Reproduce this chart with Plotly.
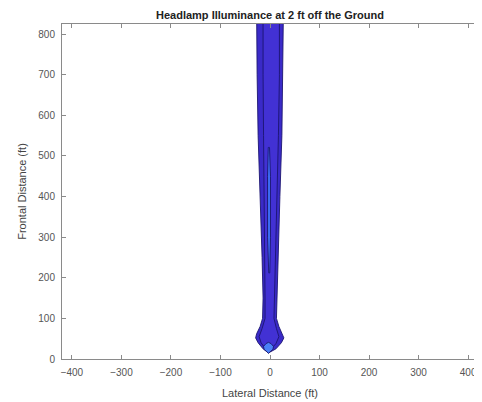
import plotly.graph_objects as go

# Contour level boundaries (lateral ft, frontal ft)
outer_x = [-3, -14, -24, -29, -27, -20, -15, -14, -16, -20, -24, -26, -27,
           27, 26, 24, 20, 16, 14, 13, 18, 25, 28, 23, 12, -3]
outer_y = [15, 25, 40, 52, 62, 80, 100, 150, 250, 400, 550, 700, 850,
           850, 700, 550, 400, 250, 150, 100, 80, 62, 52, 40, 25, 15]

mid_x = [-3, -10, -18, -22, -16, -10, -10, -11, -12, -13, -14, -14,
         19, 19, 17, 14, 10, 8, 8, 13, 18, 12, 4, -3]
mid_y = [22, 27, 40, 55, 75, 100, 150, 250, 400, 550, 700, 850,
         850, 700, 550, 400, 250, 150, 100, 75, 55, 38, 27, 22]

strip_x = [-2.5, -5, -5, -3.5, -1, 1, 1, -0.5, -2.5]
strip_y = [212, 300, 450, 521, 521, 450, 300, 212, 212]

blob_x = [-3, -12, -13, -8, -3, 2, 7, 6, -3]
blob_y = [14, 24, 31, 38, 41, 38, 31, 24, 14]

levels = [
    ("outer", outer_x, outer_y, "#3a2ac8"),
    ("mid", mid_x, mid_y, "#4231d4"),
    ("strip", strip_x, strip_y, "#3a6cf2"),
    ("blob", blob_x, blob_y, "#4a80f8"),
]

x_ticks = [-400, -300, -200, -100, 0, 100, 200, 300, 400]
y_ticks = [0, 100, 200, 300, 400, 500, 600, 700, 800]

fig = go.Figure()
for name, xs, ys, col in levels:
    fig.add_trace(go.Scatter(
        x=xs, y=ys, mode="lines", fill="toself", fillcolor=col,
        line=dict(color="#1c1570", width=0.9), name=name,
        hoverinfo="skip", showlegend=False))

font = "Liberation Sans, Arial, sans-serif"
axis_common = dict(
    showgrid=False, zeroline=False, showline=True, linecolor="#8a8a8a",
    linewidth=1, mirror="ticks", ticks="inside", ticklen=4,
    tickcolor="#8a8a8a", tickfont=dict(family=font, size=10, color="#555"),
    automargin=False,
)
fig.update_layout(
    width=474, height=394,
    margin=dict(l=54, r=4, t=16, b=43),
    paper_bgcolor="white", plot_bgcolor="white",
    title=dict(text="<b>Headlamp Illuminance at 2 ft off the Ground</b>",
               xref="paper", x=0.5, xanchor="center",
               y=0.982, yanchor="middle",
               font=dict(family=font, size=11, color="#222")),
    xaxis=dict(range=[-420, 420], tickvals=x_ticks, ticklabelstandoff=4,
               title=dict(text="Lateral Distance (ft)", standoff=12,
                          font=dict(family=font, size=11, color="#444")),
               **axis_common),
    yaxis=dict(range=[0, 825], tickvals=y_ticks, ticklabelstandoff=4,
               title=dict(text="Frontal Distance (ft)", standoff=9,
                          font=dict(family=font, size=11, color="#444")),
               **axis_common),
)
fig.write_html("out.html")
